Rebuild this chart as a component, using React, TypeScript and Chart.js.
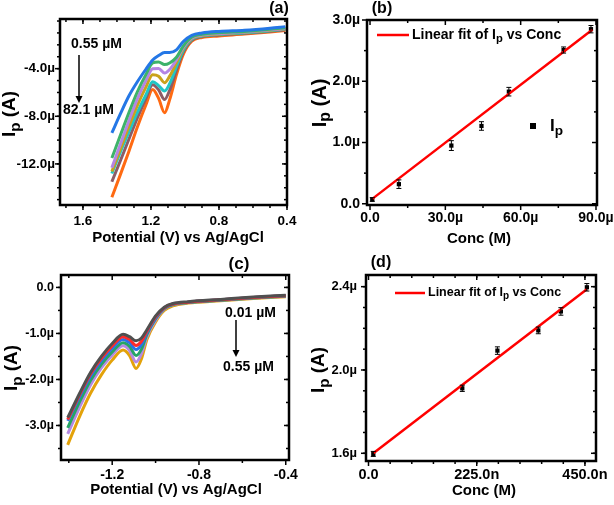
import React, { useEffect, useRef } from 'react';
import { Chart, registerables } from 'chart.js';
Chart.register(...registerables);

const FONT = '"Liberation Sans", Arial, Helvetica, sans-serif';

// ---------------- Panel (a) : DPV curves, 0.55 µM -> 82.1 µM ----------------
const A_POTENTIAL = [1.43, 1.38, 1.33, 1.28, 1.23, 1.19, 1.155, 1.12, 1.09, 1.05, 1.01, 0.96, 0.9, 0.8, 0.65, 0.5, 0.41];
const A_BLUE = [-9.4, -7.8, -6.3, -5.1, -4.05, -3.27, -2.9, -2.65, -2.65, -2.42, -1.72, -1.2, -1.0, -0.87, -0.77, -0.6, -0.47];
const A_GREEN = [-11.51, -9.59, -7.7, -5.94, -4.5, -3.52, -3.44, -3.66, -3.52, -3.04, -2.1, -1.35, -1.11, -0.98, -0.87, -0.7, -0.57];
const A_PURPLE = [-12.32, -10.35, -8.39, -6.54, -5.01, -4.01, -3.98, -4.37, -4.07, -3.25, -2.21, -1.43, -1.17, -1.04, -0.92, -0.74, -0.62];
const A_GOLD = [-12.64, -10.76, -8.86, -7.08, -5.55, -4.51, -4.63, -5.18, -4.63, -3.5, -2.31, -1.48, -1.21, -1.08, -0.95, -0.78, -0.65];
const A_CYAN = [-12.8, -11.01, -9.32, -7.68, -6.21, -5.11, -5.42, -5.88, -5.26, -3.83, -2.45, -1.53, -1.25, -1.12, -0.98, -0.81, -0.68];
const A_BROWN = [-13.5, -11.73, -9.93, -8.14, -6.51, -5.35, -5.78, -6.59, -5.81, -4.13, -2.61, -1.6, -1.3, -1.17, -1.03, -0.86, -0.73];
const A_ORANGE = [-14.8, -12.9, -10.95, -8.9, -7.05, -5.75, -6.5, -7.7, -6.6, -4.5, -2.8, -1.7, -1.38, -1.25, -1.1, -0.92, -0.8];
const A_SERIES = [
  { values: A_BLUE, color: '#2477e6' },
  { values: A_GREEN, color: '#3db36a' },
  { values: A_PURPLE, color: '#b485e3' },
  { values: A_GOLD, color: '#c9a21c' },
  { values: A_CYAN, color: '#20c6c6' },
  { values: A_BROWN, color: '#8c5c66' },
  { values: A_ORANGE, color: '#ff6a12' },
];
const A_X_TICKS = [1.6, 1.2, 0.8, 0.4];
const A_X_LABELS = ['1.6', '1.2', '0.8', '0.4'];
const A_Y_TICKS = [-4, -8, -12];
const A_Y_LABELS = ['-4.0µ', '-8.0µ', '-12.0µ'];

// ---------------- Panel (b) : calibration, µM ----------------
const B_CONC = [0.9, 11.5, 32.4, 44.4, 55.3, 77.1, 88.0];
const B_IP = [0.07, 0.32, 0.95, 1.27, 1.83, 2.51, 2.85];
const B_ERR = [0.03, 0.07, 0.08, 0.07, 0.07, 0.05, 0.06];
const B_FIT_X = [0.9, 88.5];
const B_FIT_Y = [0.08, 2.84];
const B_X_TICKS = [0, 30, 60, 90];
const B_X_LABELS = ['0.0', '30.0µ', '60.0µ', '90.0µ'];
const B_Y_TICKS = [0, 1, 2, 3];
const B_Y_LABELS = ['0.0', '1.0µ', '2.0µ', '3.0µ'];

// ---------------- Panel (c) : DPV curves, 0.01 µM -> 0.55 µM ----------------
const C_POTENTIAL = [-1.405, -1.35, -1.3, -1.25, -1.2, -1.15, -1.12, -1.09, -1.065, -1.04, -1.0, -0.96, -0.92, -0.85, -0.7, -0.55, -0.4];
const C_GRAY = [-2.83, -2.3, -1.85, -1.5, -1.22, -1.02, -1.07, -1.16, -1.1, -0.92, -0.62, -0.43, -0.35, -0.31, -0.26, -0.21, -0.17];
const C_RED = [-2.87, -2.33, -1.88, -1.54, -1.27, -1.07, -1.13, -1.26, -1.17, -0.95, -0.64, -0.44, -0.36, -0.32, -0.27, -0.22, -0.18];
const C_BLUE = [-2.9, -2.37, -1.93, -1.59, -1.32, -1.13, -1.2, -1.35, -1.24, -0.98, -0.66, -0.45, -0.36, -0.32, -0.27, -0.22, -0.18];
const C_GREEN = [-3.05, -2.48, -2.02, -1.67, -1.4, -1.2, -1.28, -1.48, -1.34, -1.02, -0.68, -0.46, -0.37, -0.33, -0.28, -0.23, -0.19];
const C_PURPLE = [-3.18, -2.6, -2.12, -1.75, -1.47, -1.27, -1.37, -1.62, -1.44, -1.07, -0.71, -0.47, -0.38, -0.33, -0.28, -0.23, -0.19];
const C_GOLD = [-3.42, -2.8, -2.3, -1.9, -1.58, -1.36, -1.48, -1.76, -1.55, -1.13, -0.75, -0.5, -0.4, -0.34, -0.29, -0.24, -0.2];
const C_SERIES = [
  { values: C_GRAY, color: '#505050' },
  { values: C_RED, color: '#ff2a2a' },
  { values: C_BLUE, color: '#2a72e8' },
  { values: C_GREEN, color: '#25a565' },
  { values: C_PURPLE, color: '#b48ae2' },
  { values: C_GOLD, color: '#e3a20a' },
];
const C_X_TICKS = [-1.2, -0.8, -0.4];
const C_X_LABELS = ['-1.2', '-0.8', '-0.4'];
const C_Y_TICKS = [0, -1, -2, -3];
const C_Y_LABELS = ['0.0', '-1.0µ', '-2.0µ', '-3.0µ'];

// ---------------- Panel (d) : calibration, nM ----------------
const D_CONC = [10, 195, 268, 353, 400, 454];
const D_IP = [1.597, 1.912, 2.093, 2.19, 2.281, 2.397];
const D_ERR = [0.012, 0.015, 0.018, 0.016, 0.018, 0.018];
const D_FIT_X = [10, 454];
const D_FIT_Y = [1.6, 2.388];
const D_X_TICKS = [0, 225, 450];
const D_X_LABELS = ['0.0', '225.0n', '450.0n'];
const D_Y_TICKS = [1.6, 2.0, 2.4];
const D_Y_LABELS = ['1.6µ', '2.0µ', '2.4µ'];

// ---------------- helpers ----------------
const fontStr = (s: number) => `bold ${s}px ${FONT}`;
const steps = (from: number, to: number, step: number) => {
  const out: number[] = [];
  for (let v = from; v <= to + 1e-9; v += step) out.push(Math.round(v * 1000) / 1000);
  return out;
};
type Part = { t: string; sub?: boolean };
const IP_TITLE: Part[] = [{ t: 'I' }, { t: 'p', sub: true }, { t: ' (A)' }];
const FIT_LEGEND: Part[] = [{ t: 'Linear fit of I' }, { t: 'p', sub: true }, { t: ' vs Conc' }];
const IP_LEGEND: Part[] = [{ t: 'I' }, { t: 'p', sub: true }];

function drawRich(ctx: CanvasRenderingContext2D, parts: Part[], size: number, x: number, y: number, align: 'left' | 'center', rotate = false) {
  ctx.save();
  ctx.translate(x, y);
  if (rotate) ctx.rotate(-Math.PI / 2);
  const sz = (p: Part) => (p.sub ? size * 0.8 : size);
  let total = 0;
  for (const p of parts) {
    ctx.font = fontStr(sz(p));
    total += ctx.measureText(p.t).width;
  }
  let cx = align === 'center' ? -total / 2 : 0;
  ctx.textBaseline = 'middle';
  ctx.textAlign = 'left';
  ctx.fillStyle = '#000';
  for (const p of parts) {
    ctx.font = fontStr(sz(p));
    ctx.fillText(p.t, cx, p.sub ? size * 0.28 : 0);
    cx += ctx.measureText(p.t).width;
  }
  ctx.restore();
}

function drawArrow(ctx: CanvasRenderingContext2D, x: number, y1: number, y2: number) {
  ctx.save();
  ctx.strokeStyle = '#000';
  ctx.fillStyle = '#000';
  ctx.lineWidth = 1.5;
  ctx.beginPath();
  ctx.moveTo(x, y1);
  ctx.lineTo(x, y2 - 5);
  ctx.stroke();
  ctx.beginPath();
  ctx.moveTo(x - 3.5, y2 - 7);
  ctx.lineTo(x + 3.5, y2 - 7);
  ctx.lineTo(x, y2);
  ctx.closePath();
  ctx.fill();
  ctx.restore();
}

type AxisSpec = {
  min: number; max: number; reverse?: boolean;
  ticks: number[]; labels: string[]; minor: number[];
  size: number; pad: number;
};
type PanelSpec = {
  left: number; top: number; W: number; H: number;
  area: { l: number; r: number; t: number; b: number };
  x: AxisSpec; y: AxisSpec;
  datasets: any[];
  errors?: { xs: number[]; ys: number[]; err: number[] };
  extra: (ctx: CanvasRenderingContext2D) => void;
};

function makeConfig(p: PanelSpec): any {
  const decor = {
    id: 'decor',
    afterDatasetsDraw(chart: any) {
      if (!p.errors) return;
      const { ctx, scales } = chart;
      ctx.save();
      ctx.strokeStyle = '#000';
      ctx.lineWidth = 1;
      p.errors.xs.forEach((xv, i) => {
        const px = scales.x.getPixelForValue(xv);
        const y1 = scales.y.getPixelForValue(p.errors!.ys[i] - p.errors!.err[i]);
        const y2 = scales.y.getPixelForValue(p.errors!.ys[i] + p.errors!.err[i]);
        ctx.beginPath();
        ctx.moveTo(px, y1); ctx.lineTo(px, y2);
        ctx.moveTo(px - 2.5, y1); ctx.lineTo(px + 2.5, y1);
        ctx.moveTo(px - 2.5, y2); ctx.lineTo(px + 2.5, y2);
        ctx.stroke();
      });
      ctx.restore();
    },
    afterDraw(chart: any) {
      const { ctx, chartArea: a, scales } = chart;
      const xs = scales.x, ys = scales.y;
      ctx.save();
      ctx.strokeStyle = '#000';
      ctx.lineWidth = 1.5;
      const line = (x1: number, y1: number, x2: number, y2: number) => {
        ctx.beginPath(); ctx.moveTo(x1, y1); ctx.lineTo(x2, y2); ctx.stroke();
      };
      const inX = (v: number) => v >= Math.min(p.x.min, p.x.max) && v <= Math.max(p.x.min, p.x.max);
      const inY = (v: number) => v >= p.y.min && v <= p.y.max;
      p.x.minor.filter(inX).forEach((v) => { const q = xs.getPixelForValue(v); line(q, a.bottom, q, a.bottom + 3); line(q, a.top, q, a.top + 3); });
      p.x.ticks.filter(inX).forEach((v) => { const q = xs.getPixelForValue(v); line(q, a.bottom, q, a.bottom + 5); line(q, a.top, q, a.top + 5); });
      p.y.minor.filter(inY).forEach((v) => { const q = ys.getPixelForValue(v); line(a.left - 3, q, a.left, q); line(a.right - 3, q, a.right, q); });
      p.y.ticks.filter(inY).forEach((v) => { const q = ys.getPixelForValue(v); line(a.left - 5, q, a.left, q); line(a.right - 5, q, a.right, q); });
      ctx.lineWidth = 2.5;
      ctx.strokeRect(a.left, a.top, a.right - a.left, a.bottom - a.top);
      ctx.restore();
      p.extra(ctx);
    },
  };
  const axis = (s: AxisSpec, isX: boolean) => ({
    type: 'linear',
    min: s.min,
    max: s.max,
    reverse: !!s.reverse,
    grid: { display: false, drawTicks: false, tickLength: 0 },
    border: { display: false },
    ticks: {
      autoSkip: false, maxRotation: 0, minRotation: 0, padding: s.pad, color: '#000',
      font: { family: FONT, size: s.size, weight: 'bold' },
      callback: (_v: number, i: number) => s.labels[i],
    },
    afterBuildTicks: (sc: any) => { sc.ticks = s.ticks.map((v) => ({ value: v })); },
    afterFit: (sc: any) => {
      if (isX) sc.height = p.H - p.area.b; else sc.width = p.area.l;
      sc.paddingLeft = 0; sc.paddingRight = 0; sc.paddingTop = 0; sc.paddingBottom = 0;
    },
  });
  return {
    type: 'line',
    data: { datasets: p.datasets },
    options: {
      animation: false,
      responsive: false,
      devicePixelRatio: 1,
      layout: { padding: { left: 0, top: p.area.t, right: p.W - p.area.r, bottom: 0 } },
      plugins: { legend: { display: false }, tooltip: { enabled: false }, title: { display: false } },
      scales: { x: axis(p.x, true), y: axis(p.y, false) },
    },
    plugins: [decor],
  };
}

const curveSets = (xs: number[], series: { values: number[]; color: string }[]) =>
  series.map((s) => ({
    data: xs.map((x, i) => ({ x, y: s.values[i] })),
    borderColor: s.color,
    borderWidth: 3,
    pointRadius: 0,
    fill: false,
    cubicInterpolationMode: 'monotone',
  }));

const calibSets = (cx: number[], cy: number[], fx: number[], fy: number[]) => [
  { data: fx.map((x, i) => ({ x, y: fy[i] })), borderColor: '#ff0000', borderWidth: 2.5, pointRadius: 0, fill: false },
  { data: cx.map((x, i) => ({ x, y: cy[i] })), showLine: false, pointStyle: 'rect', pointRadius: 3, backgroundColor: '#000', borderColor: '#000', borderWidth: 0 },
];

const PANELS: PanelSpec[] = [
  {
    left: 0, top: 0, W: 307, H: 250,
    area: { l: 60, r: 287, t: 19, b: 205 },
    x: { min: 0.4, max: 1.735, reverse: true, ticks: A_X_TICKS, labels: A_X_LABELS, minor: steps(0.4, 1.7, 0.1), size: 13.5, pad: 8 },
    y: { min: -15.45, max: 0.17, ticks: A_Y_TICKS, labels: A_Y_LABELS, minor: steps(-15, 0, 1), size: 13.5, pad: 5 },
    datasets: curveSets(A_POTENTIAL, A_SERIES),
    extra: (ctx) => {
      drawRich(ctx, IP_TITLE, 19, 10, 114, 'center', true);
      drawRich(ctx, [{ t: 'Potential (V) vs Ag/AgCl' }], 15, 178, 238, 'center');
      drawRich(ctx, [{ t: '(a)' }], 16, 279, 9, 'center');
      drawRich(ctx, [{ t: '0.55 µM' }], 14, 71, 44, 'left');
      drawArrow(ctx, 79, 55, 103);
      drawRich(ctx, [{ t: '82.1 µM' }], 14, 63, 110, 'left');
    },
  },
  {
    left: 307, top: 0, W: 307, H: 250,
    area: { l: 60, r: 290, t: 20, b: 205 },
    x: { min: -1.2, max: 90.4, ticks: B_X_TICKS, labels: B_X_LABELS, minor: [15, 45, 75], size: 14, pad: 5 },
    y: { min: -0.02, max: 3.0, ticks: B_Y_TICKS, labels: B_Y_LABELS, minor: [0.5, 1.5, 2.5], size: 14, pad: 7 },
    datasets: calibSets(B_CONC, B_IP, B_FIT_X, B_FIT_Y),
    errors: { xs: B_CONC, ys: B_IP, err: B_ERR },
    extra: (ctx) => {
      drawRich(ctx, IP_TITLE, 20, 13, 103, 'center', true);
      drawRich(ctx, [{ t: 'Conc (M)' }], 15, 172, 239, 'center');
      drawRich(ctx, [{ t: '(b)' }], 16, 75, 9, 'center');
      ctx.save();
      ctx.strokeStyle = '#ff0000'; ctx.lineWidth = 2.5;
      ctx.beginPath(); ctx.moveTo(70, 35); ctx.lineTo(102, 35); ctx.stroke();
      ctx.fillStyle = '#000'; ctx.fillRect(223, 123, 6, 6);
      ctx.restore();
      drawRich(ctx, FIT_LEGEND, 14, 105, 35, 'left');
      drawRich(ctx, IP_LEGEND, 17, 243, 126, 'left');
    },
  },
  {
    left: 0, top: 250, W: 307, H: 255,
    area: { l: 61, r: 289, t: 25, b: 210 },
    x: { min: -1.436, max: -0.385, ticks: C_X_TICKS, labels: C_X_LABELS, minor: [-1.4, -1.0, -0.6], size: 14, pad: 7 },
    y: { min: -3.75, max: 0.27, ticks: C_Y_TICKS, labels: C_Y_LABELS, minor: steps(-3.5, 0, 0.5), size: 12.5, pad: 7 },
    datasets: curveSets(C_POTENTIAL, C_SERIES),
    extra: (ctx) => {
      drawRich(ctx, IP_TITLE, 19, 12, 118, 'center', true);
      drawRich(ctx, [{ t: 'Potential (V) vs Ag/AgCl' }], 15, 176, 240, 'center');
      drawRich(ctx, [{ t: '(c)' }], 17, 239, 14, 'center');
      drawRich(ctx, [{ t: '0.01 µM' }], 14, 225, 63, 'left');
      drawArrow(ctx, 236, 70, 107);
      drawRich(ctx, [{ t: '0.55 µM' }], 14, 223, 117, 'left');
    },
  },
  {
    left: 307, top: 250, W: 307, H: 255,
    area: { l: 59, r: 289, t: 25, b: 211 },
    x: { min: -5.2, max: 473, ticks: D_X_TICKS, labels: D_X_LABELS, minor: steps(45, 450, 45), size: 14.5, pad: 5 },
    y: { min: 1.563, max: 2.456, ticks: D_Y_TICKS, labels: D_Y_LABELS, minor: steps(1.6, 2.4, 0.1), size: 13, pad: 9 },
    datasets: calibSets(D_CONC, D_IP, D_FIT_X, D_FIT_Y),
    errors: { xs: D_CONC, ys: D_IP, err: D_ERR },
    extra: (ctx) => {
      drawRich(ctx, IP_TITLE, 19, 12, 120, 'center', true);
      drawRich(ctx, [{ t: 'Conc (M)' }], 15, 177, 241, 'center');
      drawRich(ctx, [{ t: '(d)' }], 16, 74, 13, 'center');
      ctx.save();
      ctx.strokeStyle = '#ff0000'; ctx.lineWidth = 2.5;
      ctx.beginPath(); ctx.moveTo(88, 43); ctx.lineTo(118, 43); ctx.stroke();
      ctx.restore();
      drawRich(ctx, FIT_LEGEND, 12.5, 121, 43, 'left');
    },
  },
];

function Panel({ spec }: { spec: PanelSpec }) {
  const ref = useRef<HTMLCanvasElement>(null);
  useEffect(() => {
    const chart = new Chart(ref.current as HTMLCanvasElement, makeConfig(spec));
    return () => chart.destroy();
  }, [spec]);
  return (
    <canvas
      ref={ref}
      width={spec.W}
      height={spec.H}
      style={{ position: 'absolute', left: spec.left, top: spec.top, width: spec.W, height: spec.H }}
    />
  );
}

export default function App() {
  return (
    <div style={{ position: 'absolute', left: 0, top: 0, width: 614, height: 505, background: '#fff', overflow: 'hidden' }}>
      {PANELS.map((p, i) => (
        <Panel key={i} spec={p} />
      ))}
    </div>
  );
}
